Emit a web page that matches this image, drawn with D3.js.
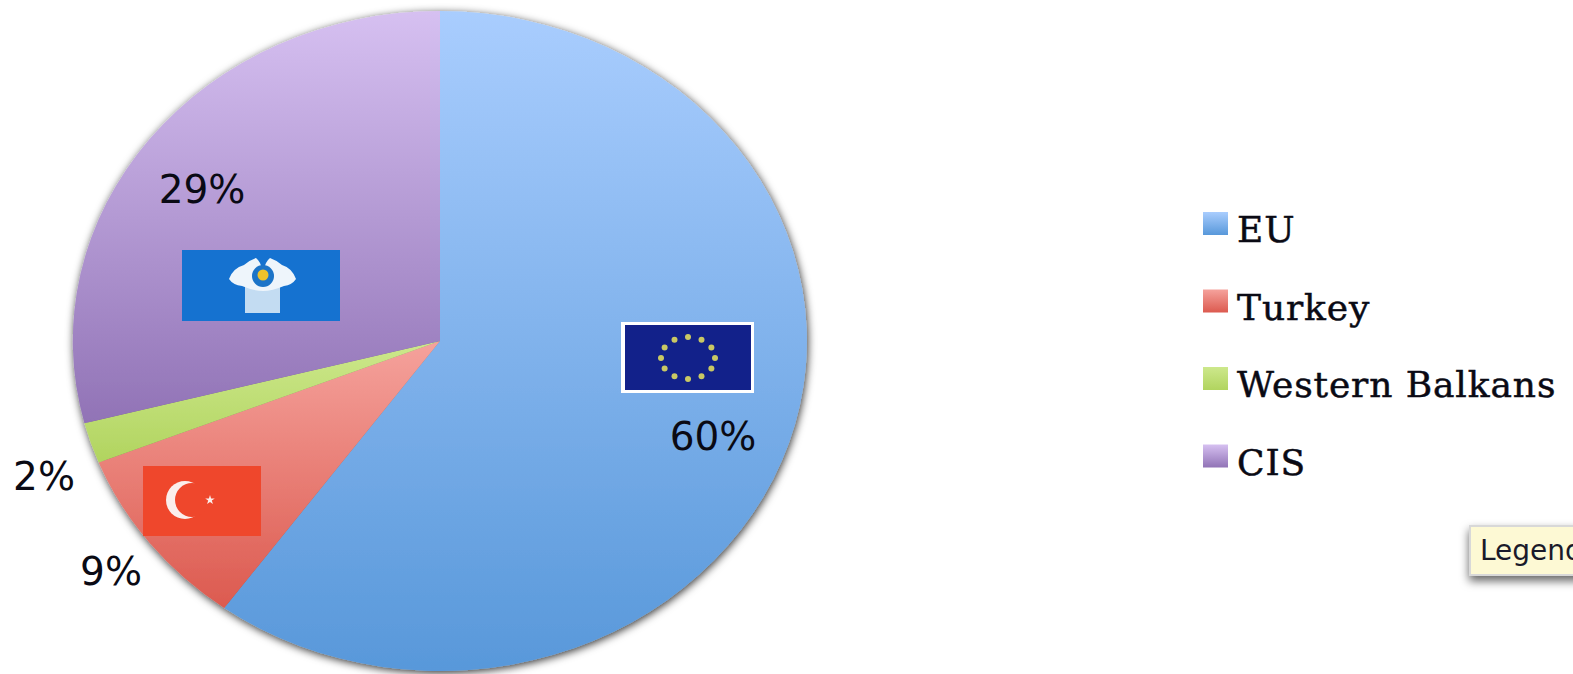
<!DOCTYPE html>
<html>
<head>
<meta charset="utf-8">
<script src="https://cdn.jsdelivr.net/npm/d3@7"></script>
<style>
  html, body { margin: 0; padding: 0; background: #fff; overflow: hidden; }
  svg { display: block; }
</style>
</head>
<body>
<script>
// Trade partners and their share of the total, in percent
const categories = ["EU", "Turkey", "Western Balkans", "CIS"];
const shares = [60, 9, 2, 29];
const gradientTops = ["#a9cdfe", "#f5a29c", "#cde88c", "#d6c0f1"];
const gradientBottoms = ["#5898da", "#dc5a4f", "#b1d45f", "#9173b6"];

const width = 1573, height = 674;
const pieCentre = { x: 440, y: 341 }, pieRadius = { x: 367, y: 330 };

const svg = d3.select("body").append("svg").attr("width", width).attr("height", height);
const defs = svg.append("defs");

const shadow = defs.append("filter").attr("id", "pie-shadow")
  .attr("x", "-5%").attr("y", "-5%").attr("width", "110%").attr("height", "110%");
shadow.append("feDropShadow")
  .attr("dx", 1).attr("dy", 2).attr("stdDeviation", 4)
  .attr("flood-color", "#000").attr("flood-opacity", 0.8);

const tipShadow = defs.append("filter").attr("id", "tip-shadow")
  .attr("x", "-20%").attr("y", "-30%").attr("width", "140%").attr("height", "170%");
tipShadow.append("feDropShadow")
  .attr("dx", 0).attr("dy", 5).attr("stdDeviation", 5)
  .attr("flood-color", "#000").attr("flood-opacity", 0.6);

categories.forEach((c, i) => {
  const g = defs.append("linearGradient").attr("id", "slice-" + i)
    .attr("x1", 0).attr("y1", 0).attr("x2", 0).attr("y2", 1);
  g.append("stop").attr("offset", 0).attr("stop-color", gradientTops[i]);
  g.append("stop").attr("offset", 1).attr("stop-color", gradientBottoms[i]);
});

// The pie is drawn on a unit circle and stretched to an ellipse
const pie = d3.pie().sort(null).value(d => d)(shares);
const arc = d3.arc().innerRadius(0).outerRadius(1);

svg.append("g").attr("filter", "url(#pie-shadow)")
  .append("g")
  .attr("transform", `translate(${pieCentre.x},${pieCentre.y}) scale(${pieRadius.x},${pieRadius.y})`)
  .selectAll("path").data(pie).join("path")
  .attr("d", arc)
  .attr("fill", (d, i) => `url(#slice-${i})`);

// EU flag
const eu = svg.append("g");
eu.append("rect").attr("x", 621).attr("y", 322).attr("width", 133).attr("height", 71).attr("fill", "#fff");
eu.append("rect").attr("x", 625).attr("y", 325).attr("width", 126).attr("height", 65).attr("fill", "#12218a");
d3.range(12).forEach(k => {
  const a = k * Math.PI / 6;
  eu.append("circle")
    .attr("cx", 688 + 27 * Math.sin(a))
    .attr("cy", 358 - 21 * Math.cos(a))
    .attr("r", 3)
    .attr("fill", "#c9c864");
});

// Turkish flag
const tr = svg.append("g");
tr.append("rect").attr("x", 143).attr("y", 466).attr("width", 118).attr("height", 70).attr("fill", "#ef472c");
tr.append("circle").attr("cx", 185).attr("cy", 500).attr("r", 19).attr("fill", "#fbeeec");
tr.append("circle").attr("cx", 192).attr("cy", 500).attr("r", 17).attr("fill", "#ef472c");
tr.append("path")
  .attr("transform", "translate(210,500)")
  .attr("d", d3.symbol(d3.symbolStar, 28)())
  .attr("fill", "#fbeeec");

// CIS flag with its emblem
const cis = svg.append("g");
cis.append("rect").attr("x", 182).attr("y", 250).attr("width", 158).attr("height", 71).attr("fill", "#1572d0");
cis.append("rect").attr("x", 245).attr("y", 284).attr("width", 35).attr("height", 29).attr("fill", "#c3dcf2");
cis.append("path")
  .attr("d", "M229,279 Q233,268 244,265 Q250,260 256,258 Q261,262 262,270 L264,270 Q265,262 270,258 Q276,260 282,265 Q292,268 296,279 Q292,285 284,286 Q272,291 263,291 Q254,291 242,286 Q233,285 229,279 Z")
  .attr("fill", "#eef5fb");
cis.append("circle").attr("cx", 263).attr("cy", 276).attr("r", 11).attr("fill", "#1c74c8");
cis.append("circle").attr("cx", 263).attr("cy", 275).attr("r", 5.5).attr("fill", "#eec22c");

// Percentage labels, placed by hand around the pie
const labelAnchors = [[710, 450], [111, 585], [44, 490], [202, 203]];
svg.append("g").selectAll("text").data(shares).join("text")
  .attr("x", (d, i) => labelAnchors[i][0] + (i === 0 ? 3 : 0))
  .attr("y", (d, i) => labelAnchors[i][1])
  .attr("text-anchor", "middle")
  .attr("font-family", "DejaVu Sans")
  .attr("font-size", 39)
  .attr("fill", "#0a0a14")
  .text(d => d + "%");

// Legend
const legendY = d3.scaleBand().domain(categories).range([204, 514]);
const legend = svg.append("g").selectAll("g").data(categories).join("g")
  .attr("transform", d => `translate(1203,${legendY(d) + 8})`);
legend.append("rect")
  .attr("width", 25).attr("height", 23)
  .attr("fill", (d, i) => `url(#slice-${i})`);
legend.append("text")
  .attr("x", 34).attr("y", 30)
  .attr("font-family", "DejaVu Serif")
  .attr("font-size", 36)
  .attr("letter-spacing", 0.9)
  .attr("stroke", "#0a0a14").attr("stroke-width", 0.5)
  .attr("fill", "#0a0a14")
  .text(d => d);

// Hover tooltip, running off the right edge
const tip = svg.append("g");
tip.append("rect")
  .attr("x", 1470).attr("y", 526).attr("width", 160).attr("height", 49)
  .attr("fill", "#fdf9d4").attr("stroke", "#d8d8d8").attr("stroke-width", 2)
  .attr("filter", "url(#tip-shadow)");
tip.append("text")
  .attr("x", 1480).attr("y", 560)
  .attr("font-family", "DejaVu Sans")
  .attr("font-size", 28)
  .attr("fill", "#1a1a2a")
  .text("Legend");
</script>
</body>
</html>
